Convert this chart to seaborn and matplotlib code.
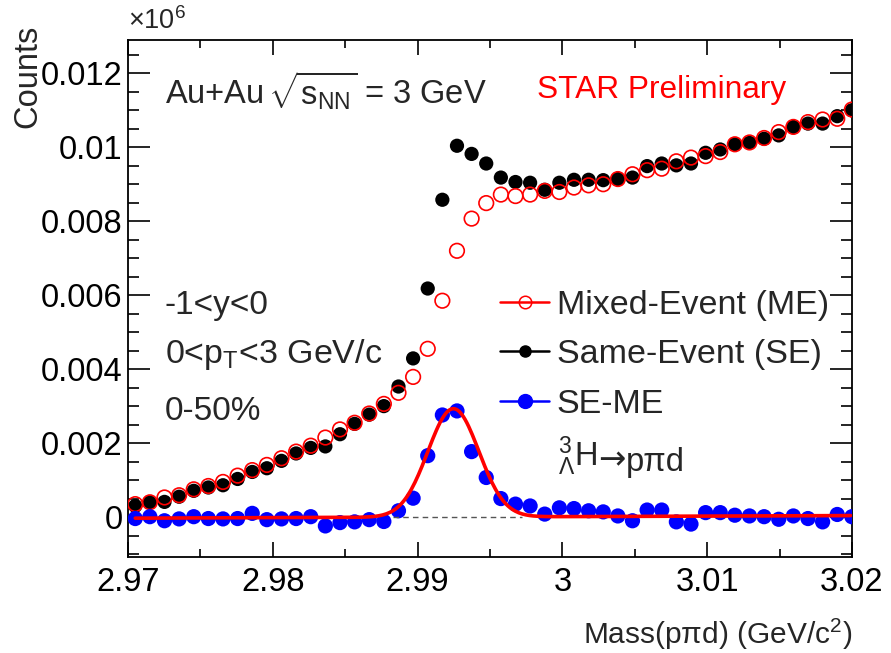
import numpy as np
import pandas as pd
import seaborn as sns
import matplotlib.pyplot as plt
from matplotlib.lines import Line2D
from matplotlib.ticker import MultipleLocator, FixedLocator, FixedFormatter

# bin centres, GeV/c^2
mass = [2.97050, 2.97151, 2.97252, 2.97353, 2.97454, 2.97555, 2.97656, 2.97757, 2.97858, 2.97959,
        2.98060, 2.98161, 2.98262, 2.98363, 2.98464, 2.98565, 2.98666, 2.98767, 2.98868, 2.98969,
        2.99070, 2.99171, 2.99272, 2.99373, 2.99474, 2.99575, 2.99676, 2.99777, 2.99878, 2.99979,
        3.00080, 3.00181, 3.00282, 3.00383, 3.00484, 3.00585, 3.00686, 3.00787, 3.00888, 3.00989,
        3.01090, 3.01191, 3.01292, 3.01393, 3.01494, 3.01595, 3.01696, 3.01797, 3.01898, 3.01999]

# counts in units of 1e-3 (as on the axis)
same_event = [0.30, 0.40, 0.41, 0.55, 0.71, 0.80, 0.86, 1.03, 1.22, 1.32,
              1.52, 1.72, 1.87, 1.91, 2.24, 2.52, 2.77, 3.00, 3.53, 4.29,
              6.18, 8.58, 10.04, 9.82, 9.56, 9.18, 9.06, 9.04, 8.85, 9.04,
              9.12, 9.12, 9.11, 9.14, 9.18, 9.49, 9.56, 9.51, 9.56, 9.85,
              9.94, 10.08, 10.12, 10.23, 10.32, 10.55, 10.64, 10.64, 10.84, 11.00]
mixed_event = [0.35, 0.40, 0.53, 0.59, 0.75, 0.84, 0.95, 1.12, 1.27, 1.41,
               1.59, 1.77, 1.93, 2.15, 2.37, 2.55, 2.80, 3.06, 3.36, 3.79,
               4.55, 5.85, 7.20, 8.07, 8.49, 8.72, 8.68, 8.72, 8.82, 8.79,
               8.91, 8.97, 9.00, 9.14, 9.27, 9.38, 9.42, 9.62, 9.72, 9.76,
               9.87, 10.08, 10.13, 10.25, 10.41, 10.55, 10.68, 10.75, 10.77, 11.02]
se_minus_me = [-0.04, 0.01, -0.10, -0.05, 0.01, -0.04, -0.05, -0.04, 0.10, -0.07,
               -0.05, -0.04, 0.01, -0.24, -0.15, -0.13, -0.07, -0.12, 0.17, 0.51,
               1.66, 2.76, 2.87, 1.77, 1.07, 0.50, 0.35, 0.30, 0.08, 0.25,
               0.23, 0.17, 0.14, 0.03, -0.10, 0.19, 0.19, -0.13, -0.19, 0.12,
               0.12, 0.05, 0.03, 0.01, -0.06, 0.03, -0.04, -0.13, 0.07, 0.01]

# gaussian + linear background fit (units of 1e-3)
fit_amp, fit_mean, fit_sigma = 2.93, 2.99247, 0.00176
fit_bkg_lo, fit_bkg_hi = -0.03, 0.04
fit_range = (2.9705, 3.0199)

ytick_vals = [0, 0.002, 0.004, 0.006, 0.008, 0.01, 0.012]
ytick_labels = ["0", "0.002", "0.004", "0.006", "0.008", "0.01", "0.012"]
xtick_vals = [2.97, 2.98, 2.99, 3.00, 3.01, 3.02]
xtick_labels = ["2.97", "2.98", "2.99", "3", "3.01", "3.02"]

sns.set_theme(style="ticks")
plt.rcParams["font.family"] = ["Liberation Sans", "DejaVu Sans"]
plt.rcParams["mathtext.fontset"] = "custom"
plt.rcParams["mathtext.rm"] = "Liberation Sans"
plt.rcParams["mathtext.it"] = "Liberation Sans:italic"
plt.rcParams["mathtext.default"] = "regular"

FS = 23.5

df = pd.DataFrame({
    "mass": mass,
    "SE": np.array(same_event) * 1e-3,
    "ME": np.array(mixed_event) * 1e-3,
    "diff": np.array(se_minus_me) * 1e-3,
})

fig = plt.figure(figsize=(8.91, 6.53), dpi=100)
ax = fig.add_axes([128 / 891, 1 - 557 / 653, 724 / 891, 517 / 653])

sns.scatterplot(data=df, x="mass", y="SE", ax=ax, color="black", s=105,
                edgecolor="none", zorder=3)
sns.scatterplot(data=df, x="mass", y="ME", ax=ax, facecolor="none",
                edgecolor="red", s=110, linewidth=1.2, zorder=4)
sns.scatterplot(data=df, x="mass", y="diff", ax=ax, color="blue", s=120,
                edgecolor="none", zorder=5)

# fit curve
xf = np.linspace(fit_range[0], fit_range[1], 400)
bkg = fit_bkg_lo + (fit_bkg_hi - fit_bkg_lo) * (xf - fit_range[0]) / (fit_range[1] - fit_range[0])
yf = (fit_amp * np.exp(-0.5 * ((xf - fit_mean) / fit_sigma) ** 2) + bkg) * 1e-3
sns.lineplot(x=xf, y=yf, ax=ax, color="red", lw=2.6, zorder=6, sort=False)
ax.plot([2.9883, 2.9972], [0, 0], color="#555555", lw=1.0, ls=(0, (4, 3)), zorder=5.5)

ax.set_xlim(2.97, 3.02)
ax.set_ylim(-0.00108, 0.0129)
ax.xaxis.set_major_locator(FixedLocator(xtick_vals))
ax.xaxis.set_major_formatter(FixedFormatter(xtick_labels))
ax.xaxis.set_minor_locator(MultipleLocator(0.005))
ax.yaxis.set_major_locator(FixedLocator(ytick_vals))
ax.yaxis.set_major_formatter(FixedFormatter(ytick_labels))
ax.yaxis.set_minor_locator(MultipleLocator(0.0005))

ax.tick_params(axis="both", which="both", direction="in", top=True, right=True,
               labelsize=FS, colors="black", width=1.2)
ax.tick_params(axis="x", which="major", length=11, pad=7)
ax.tick_params(axis="x", which="minor", length=5.5)
ax.tick_params(axis="y", which="major", length=15.5, pad=4)
ax.tick_params(axis="y", which="minor", length=7.8)
for sp in ax.spines.values():
    sp.set_linewidth(1.3)
    sp.set_color("black")
ax.grid(False)

ax.set_xlabel("Mass(pπd) (GeV/c$^{2}$)", fontsize=21.5, loc="right")
ax.xaxis.set_label_coords(1.0, -0.115)
ax.set_ylabel("")
ax.text(-0.138, 1.03, "Counts", transform=ax.transAxes, fontsize=FS,
        rotation=90, rotation_mode="anchor", ha="right", va="center")

ax.text(0.0, 1.01, r"$\times$10$^{6}$", transform=ax.transAxes, fontsize=19.5,
        ha="left", va="bottom")

ax.text(0.051, 0.903, r"Au+Au $\!\sqrt{s_{NN}}$ = 3 GeV", transform=ax.transAxes,
        fontsize=FS, ha="left", va="center")
ax.text(0.565, 0.903, "STAR Preliminary", transform=ax.transAxes, color="red",
        fontsize=22.8, ha="left", va="center")
ax.text(0.051, 0.487, "-1<y<0", transform=ax.transAxes, fontsize=24,
        ha="left", va="center")
ax.text(0.051, 0.391, r"0<p$_{T}$<3 GeV/c", transform=ax.transAxes, fontsize=24.5,
        ha="left", va="center")
ax.text(0.051, 0.282, "0-50%", transform=ax.transAxes, fontsize=24,
        ha="left", va="center")

# decay channel label: hypertriton, arrow, daughters
t_h = ax.text(0.594, 0.176, r"${}^{3}_{\Lambda}$H", transform=ax.transAxes,
              fontsize=FS, ha="left", va="baseline")
t_arrow = ax.annotate("→", xy=(1.0, 0.0), xycoords=t_h, fontsize=FS,
                      family="DejaVu Sans", ha="left", va="bottom",
                      xytext=(0.5, 1.5), textcoords="offset points")
ax.annotate("pπd", xy=(1.0, 0.0), xycoords=t_arrow, fontsize=FS,
            ha="left", va="bottom", xytext=(0.5, -1.5), textcoords="offset points")

handles = [
    Line2D([], [], color="red", lw=1.8, marker="o", mfc="none", mec="red", ms=9, mew=1.1),
    Line2D([], [], color="black", lw=1.8, marker="o", mfc="black", mec="black", ms=8),
    Line2D([], [], color="blue", lw=1.8, marker="o", mfc="blue", mec="blue", ms=10),
]
labels = ["Mixed-Event (ME)", "Same-Event (SE)", "SE-ME"]
ax.legend(handles, labels, loc="center left", bbox_to_anchor=(0.514, 0.391),
          frameon=False, fontsize=24.5, handlelength=1.45, handletextpad=0.22,
          labelspacing=0.54, borderaxespad=0, borderpad=0)

fig.savefig("out.png", dpi=100)
